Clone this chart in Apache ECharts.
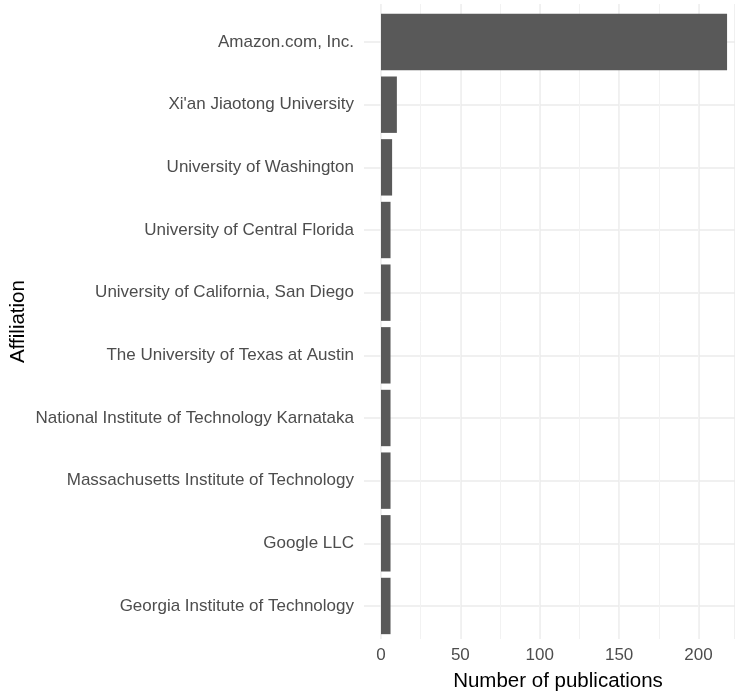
<!DOCTYPE html>
<html lang="en">
<head>
    <meta charset="UTF-8">
    <script src="https://cdn.jsdelivr.net/npm/echarts@6/dist/echarts.min.js"></script>
    <title>Publications by affiliation</title>
</head>
<body>
    <style>
        html, body, #main {
            margin: 0;
            width: 735px;
            height: 697px;
            background: #fff;
        }
    </style>
    <div id="main"></div>
    <script>
        var affiliations = [
            'Amazon.com, Inc.',
            "Xi'an Jiaotong University",
            'University of Washington',
            'University of Central Florida',
            'University of California, San Diego',
            'The University of Texas at Austin',
            'National Institute of Technology Karnataka',
            'Massachusetts Institute of Technology',
            'Google LLC',
            'Georgia Institute of Technology'
        ];
        var publications = [218, 10, 7, 6, 6, 6, 6, 6, 6, 6];
        var xMax = 223;

        var font = 'Liberation Sans, Arial, sans-serif';
        var chart = echarts.init(document.getElementById('main'));

        chart.setOption({
            animation: false,
            grid: [
                // panel: vertical grid lines + x labels
                {left: 381, right: -2, top: 4, bottom: 53},
                // horizontal grid lines at category centres
                {left: 364, right: -2, top: 42, bottom: 91},
                // bars
                {left: 381, right: -2, top: 10.7, bottom: 59.7}
            ],
            xAxis: [
                {
                    gridIndex: 0, type: 'value', min: 0, max: xMax, interval: 50,
                    name: 'Number of publications', nameLocation: 'middle', nameGap: 32,
                    nameTextStyle: {color: '#000', fontSize: 20.5, fontFamily: font},
                    axisLine: {show: false}, axisTick: {show: false},
                    axisLabel: {color: '#4d4d4d', fontSize: 17, fontFamily: font, margin: 8, showMaxLabel: false},
                    splitLine: {show: true, lineStyle: {color: '#ebebeb', width: 1.5}}
                },
                {
                    gridIndex: 0, type: 'value', min: 0, max: xMax, interval: 25,
                    axisLine: {show: false}, axisTick: {show: false}, axisLabel: {show: false},
                    splitLine: {show: true, lineStyle: {color: '#f2f2f2', width: 1}}
                },
                {
                    gridIndex: 1, type: 'value', min: 0, max: xMax, show: false
                },
                {
                    gridIndex: 2, type: 'value', min: 0, max: xMax, show: false
                }
            ],
            yAxis: [
                {
                    gridIndex: 0, type: 'value', min: 0, max: 1,
                    name: 'Affiliation', nameLocation: 'middle', nameGap: 352,
                    nameTextStyle: {color: '#000', fontSize: 20.5, fontFamily: font},
                    axisLine: {show: false}, axisTick: {show: false}, axisLabel: {show: false},
                    splitLine: {show: false}
                },
                {
                    gridIndex: 1, type: 'category', data: affiliations, inverse: true, boundaryGap: false,
                    axisLine: {show: false}, axisTick: {show: false}, axisLabel: {show: false},
                    splitLine: {show: true, lineStyle: {color: '#ebebeb', width: 1.5}}
                },
                {
                    gridIndex: 2, type: 'category', data: affiliations, inverse: true,
                    axisLine: {show: false}, axisTick: {show: false},
                    axisLabel: {color: '#4d4d4d', fontSize: 17, fontFamily: font, margin: 27},
                    splitLine: {show: false}
                }
            ],
            series: [
                {
                    type: 'bar',
                    xAxisIndex: 3,
                    yAxisIndex: 2,
                    data: publications,
                    barWidth: '90%',
                    itemStyle: {color: '#595959'}
                }
            ]
        });
    </script>
</body>
</html>
